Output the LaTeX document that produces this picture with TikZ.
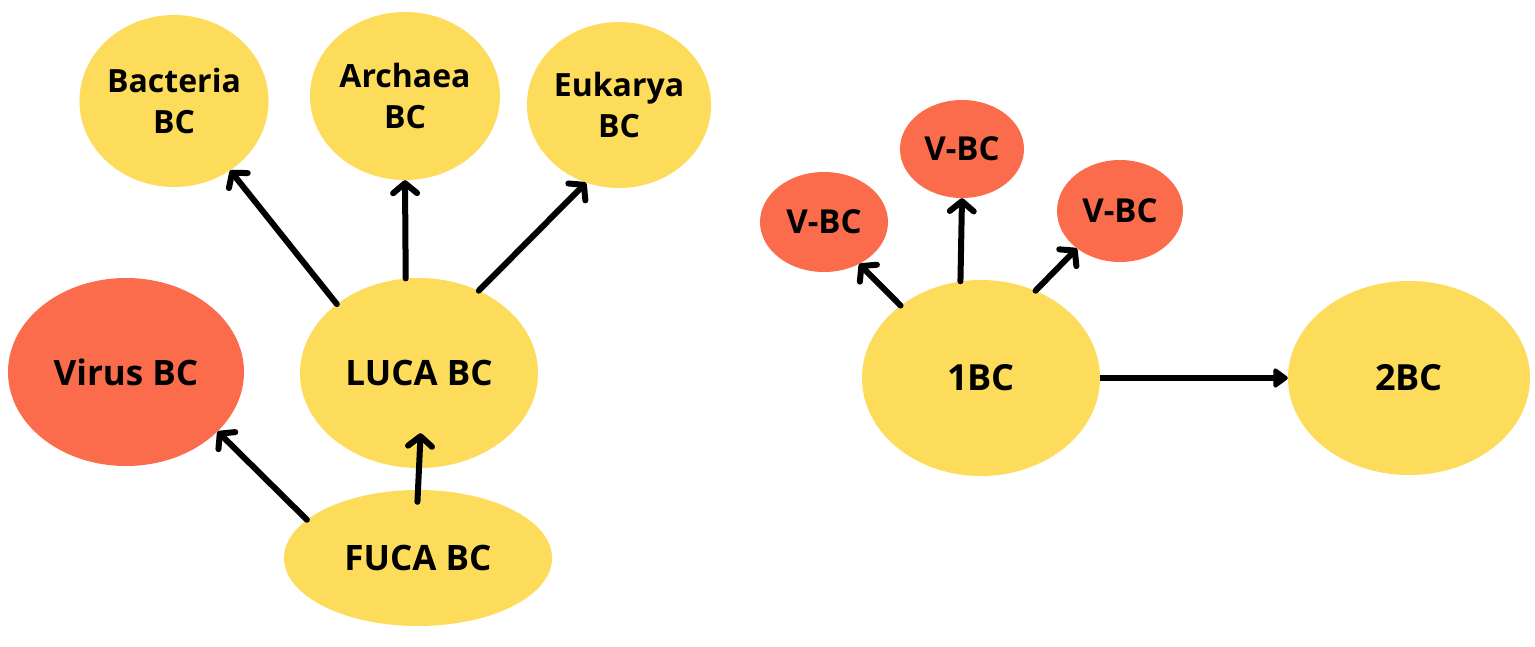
\documentclass[tikz,border=0pt]{standalone}
\usepackage{fontspec}
\setmainfont{Open Sans}
\usetikzlibrary{shapes.geometric,arrows.meta}
\definecolor{ybc}{RGB}{253,220,92}
\definecolor{rbc}{RGB}{250,108,76}
\tikzset{
  bc/.style={ellipse, fill=ybc, draw=none, inner sep=0pt, align=center,
    font=\bfseries\fontsize{32}{41}\selectfont},
  vbc/.style={bc, fill=rbc},
  big/.style={font=\bfseries\fontsize{35}{40}\selectfont},
  arr/.style={line width=6pt, line cap=round, -{Straight Barb[length=10pt,width=24pt,round]}},
  farr/.style={line width=6pt, -{Triangle[length=16pt,width=22pt,round]}}
}
\begin{document}
\begin{tikzpicture}[x=1pt,y=-1pt]
\fill[white] (0,0) rectangle (1535,646);
\useasboundingbox (0,0) rectangle (1535,646);
% left part
\node[bc, minimum width=188pt, minimum height=172pt] (bact) at (174,101) {Bacteria\\BC};
\node[bc, minimum width=190pt, minimum height=168pt] (arch) at (405,96) {Archaea\\BC};
\node[bc, minimum width=158pt, minimum height=166pt] (euka) at (619,105) {Eukarya\\BC};
\node[vbc, big, minimum width=236pt, minimum height=188pt] (virus) at (126,372) {Virus BC};
\node[bc, big, minimum width=238pt, minimum height=190pt] (luca) at (419,373) {LUCA BC};
\node[bc, big, minimum width=268pt, minimum height=136pt] (fuca) at (418,558) {FUCA BC};
\draw[arr] (luca.140.8) -- (bact.-51.7);
\draw[arr] (luca.98) -- (arch.-90);
\draw[arr] (luca.54) -- (euka.-113);
\draw[arr] (fuca.161) -- (virus.-33);
\draw[arr, shorten <=-12pt, shorten >=-35pt] (fuca.north) -- (luca.south);
% right part
\node[vbc, minimum width=128pt, minimum height=100pt, font=\bfseries\fontsize{33}{40}\selectfont] (vl) at (824,222) {V-BC};
\node[vbc, minimum width=124pt, minimum height=98pt, font=\bfseries\fontsize{33}{40}\selectfont] (vt) at (962,149) {V-BC};
\node[vbc, minimum width=126pt, minimum height=102pt, font=\bfseries\fontsize{33}{40}\selectfont] (vr) at (1120,211) {V-BC};
\node[bc, minimum width=238pt, minimum height=196pt, font=\bfseries\fontsize{36}{40}\selectfont] (obc) at (981,378) {1BC};
\node[bc, minimum width=242pt, minimum height=194pt, font=\bfseries\fontsize{36}{40}\selectfont] (tbc) at (1409,378) {2BC};
\draw[arr] (obc.138) -- (vl.-50);
\draw[arr] (obc.102) -- (vt.-90);
\draw[arr] (obc.58.5) -- (vr.-139);
\draw[farr] (obc.east) -- (tbc.west);
\end{tikzpicture}
\end{document}
